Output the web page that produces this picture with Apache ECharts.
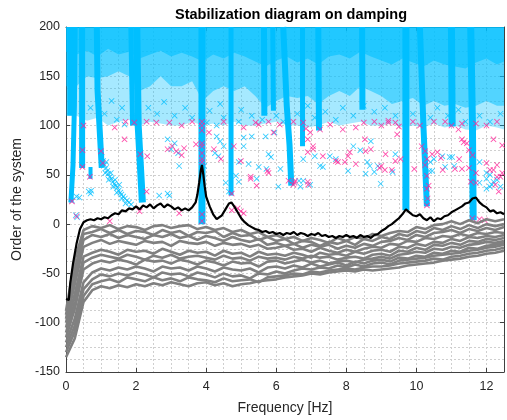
<!DOCTYPE html>
<html><head><meta charset="utf-8">
<script src="https://cdn.jsdelivr.net/npm/echarts@6/dist/echarts.min.js"></script>
<style>html,body{margin:0;padding:0;background:#fff}#c{width:507px;height:420px}</style>
</head><body><div id="c"></div>
<script>
// ---------- data ----------
const xTicks = [0,2,4,6,8,10,12];
const yTicks = [-150,-100,-50,0,50,100,150,200];

const grayF = [0,0.25,0.5,0.75,1,1.25,1.5,1.75,2,2.25,2.5,2.75,3,3.25,3.5,3.75,4,4.25,4.5,4.75,5,5.25,5.5,5.75,6,6.25,6.5,6.75,7,7.25,7.5,7.75,8,8.25,8.5,8.75,9,9.25,9.5,9.75,10,10.25,10.5,10.75,11,11.25,11.5,11.75,12,12.25,12.5];
const gray1 = [-88,-36,-6,-2,-4,-1,-5,-2,-3,-6,-2,-1,-4,-2,-1,-5,-3,-6,-4,-8,-6,-10,-8,-13,-11,-15,-13,-17,-14,-16,-19,-14,-17,-13,-15,-10,-12,-9,-7,-8,-3,-5,-1,0,3,0,4,1,5,3,5];
const gray2 = [-92,-46,-10,-8,-5,-9,-6,-10,-7,-8,-11,-6,-9,-7,-12,-8,-9,-7,-13,-9,-12,-11,-16,-13,-17,-15,-20,-17,-18,-22,-18,-20,-17,-21,-15,-17,-13,-15,-10,-12,-7,-9,-4,-6,-2,-5,-1,-4,0,-2,0];
const gray3 = [-96,-53,-16,-11,-13,-10,-14,-11,-13,-15,-11,-13,-10,-14,-12,-16,-12,-14,-17,-13,-16,-18,-15,-21,-19,-22,-20,-24,-21,-23,-21,-25,-22,-24,-20,-22,-18,-17,-14,-16,-11,-13,-9,-8,-6,-9,-5,-7,-4,-6,-3];
const gray4 = [-100,-61,-23,-19,-16,-20,-17,-19,-21,-17,-19,-18,-22,-17,-19,-20,-18,-22,-19,-21,-20,-23,-21,-25,-24,-22,-26,-25,-28,-24,-27,-29,-26,-28,-25,-23,-24,-20,-21,-17,-18,-14,-15,-12,-13,-10,-12,-9,-10,-8,-9];
const gray5 = [-105,-71,-33,-29,-26,-28,-31,-26,-28,-27,-30,-25,-28,-31,-27,-29,-28,-32,-27,-30,-29,-33,-28,-31,-30,-32,-29,-31,-34,-29,-31,-30,-32,-28,-30,-27,-26,-28,-23,-24,-20,-22,-18,-19,-15,-17,-13,-14,-12,-13,-11];
const gray6 = [-110,-79,-39,-34,-31,-33,-35,-31,-33,-36,-32,-34,-31,-35,-33,-32,-34,-36,-32,-35,-34,-37,-33,-35,-34,-36,-33,-35,-32,-34,-33,-36,-34,-33,-35,-31,-30,-32,-27,-28,-24,-26,-21,-22,-19,-21,-17,-18,-15,-16,-14];
const gray7 = [-115,-86,-46,-40,-37,-39,-36,-38,-41,-36,-38,-37,-40,-36,-38,-41,-37,-39,-42,-38,-40,-39,-43,-38,-37,-40,-38,-36,-39,-37,-40,-38,-37,-39,-36,-35,-33,-35,-31,-30,-28,-29,-25,-26,-23,-24,-21,-20,-18,-19,-17];
const gray8 = [-120,-96,-59,-49,-45,-47,-44,-46,-43,-45,-48,-43,-45,-44,-47,-43,-45,-48,-44,-46,-47,-45,-49,-44,-43,-45,-42,-44,-40,-43,-41,-39,-42,-38,-40,-37,-36,-38,-34,-35,-32,-33,-29,-30,-27,-28,-24,-25,-22,-21,-19];
const gray9 = [-125,-103,-66,-56,-51,-53,-50,-52,-49,-51,-54,-49,-51,-50,-53,-49,-51,-54,-50,-53,-52,-55,-50,-51,-48,-50,-47,-45,-46,-44,-45,-42,-44,-41,-43,-40,-39,-41,-37,-36,-35,-34,-32,-31,-30,-29,-27,-26,-24,-23,-21];
const gray10 = [-130,-109,-73,-61,-58,-56,-59,-54,-56,-58,-54,-57,-55,-58,-54,-56,-57,-59,-55,-58,-57,-56,-59,-54,-53,-52,-50,-51,-48,-49,-47,-46,-45,-46,-44,-43,-43,-42,-40,-39,-38,-37,-35,-36,-33,-32,-30,-29,-27,-26,-24];
const gray11 = [-135,-116,-79,-67,-63,-65,-62,-64,-61,-63,-60,-62,-59,-61,-63,-60,-59,-62,-60,-63,-61,-60,-58,-57,-56,-54,-53,-52,-50,-51,-49,-48,-47,-48,-46,-47,-46,-45,-44,-42,-41,-40,-39,-37,-36,-35,-33,-32,-30,-29,-27];

const blackLine = [[0,-76],[0.08,-77],[0.12,-60],[0.2,-40],[0.3,-20],[0.4,-5],[0.5,2],[0.6,4],[0.7,5],[0.8,4],[0.9,6],[1.0,5],[1.1,7],[1.2,6],[1.3,9],[1.4,11],[1.5,10],[1.6,14],[1.7,13],[1.8,16],[1.9,15],[2.0,18],[2.1,15],[2.2,19],[2.3,17],[2.4,20],[2.5,16],[2.6,19],[2.7,21],[2.8,17],[2.9,20],[3.0,18],[3.1,15],[3.2,17],[3.3,14],[3.4,16],[3.5,14],[3.6,17],[3.7,22],[3.75,30],[3.8,42],[3.85,55],[3.88,60],[3.92,50],[3.96,38],[4.0,28],[4.1,18],[4.2,10],[4.3,5],[4.35,4],[4.45,9],[4.55,15],[4.65,21],[4.72,22],[4.8,18],[4.9,12],[5.0,6],[5.1,2],[5.2,-1],[5.3,-3],[5.4,-5],[5.5,-6],[5.6,-8],[5.7,-7],[5.8,-9],[5.9,-8],[6.0,-10],[6.1,-9],[6.2,-11],[6.3,-9],[6.4,-10],[6.5,-8],[6.6,-11],[6.7,-9],[6.8,-10],[6.9,-12],[7.0,-10],[7.1,-11],[7.2,-9],[7.3,-12],[7.4,-11],[7.5,-13],[7.6,-12],[7.7,-14],[7.8,-12],[7.9,-13],[8.0,-11],[8.1,-13],[8.2,-12],[8.3,-14],[8.4,-11],[8.5,-13],[8.6,-12],[8.7,-14],[8.8,-11],[8.9,-10],[9.0,-7],[9.1,-5],[9.2,-2],[9.3,0],[9.4,3],[9.5,6],[9.6,10],[9.7,15],[9.75,15],[9.8,12],[9.9,9],[10.0,8],[10.1,10],[10.2,6],[10.3,4],[10.4,7],[10.5,3],[10.6,6],[10.7,5],[10.8,8],[10.9,9],[11.0,12],[11.1,14],[11.2,16],[11.3,18],[11.4,21],[11.5,22],[11.6,26],[11.65,24],[11.7,27],[11.8,22],[11.9,19],[12.0,17],[12.1,13],[12.2,14],[12.3,11],[12.4,12],[12.5,10]];

// lower edges of the dense cloud of stable poles (upper orders)
const cloudF = [0,0.3,0.6,0.9,1.2,1.5,1.8,2.1,2.4,2.7,3.0,3.3,3.6,3.9,4.2,4.5,4.8,5.1,5.4,5.7,6.0,6.3,6.6,6.9,7.2,7.5,7.8,8.1,8.4,8.7,9.0,9.3,9.6,9.9,10.2,10.5,10.8,11.1,11.4,11.7,12.0,12.3,12.5];
const cloudTopLow = [175,172,176,170,178,172,175,168,172,176,170,174,170,165,172,168,174,170,165,160,166,170,164,168,162,170,172,168,175,170,166,162,168,164,160,166,162,160,158,164,168,162,165];
const cloudDenseLow = [140,140,150,148,150,155,150,135,140,150,140,140,145,125,135,140,135,140,130,118,125,130,128,130,122,130,135,130,140,135,130,122,125,128,120,125,120,122,118,120,125,120,120];
const cloudSparseLow = [110,110,105,108,100,104,106,100,104,102,100,100,104,100,102,100,104,100,100,102,104,100,100,98,100,104,100,102,104,100,100,102,98,100,98,102,98,100,96,95,100,98,96];

// vertical alignments of stable poles: [frequency, order] polylines
const stableColumns = [
  [[0.12,200],[0.12,110]],
  [[0.26,200],[0.24,120],[0.2,60],[0.14,22]],
  [[0.46,200],[0.46,57]],
  [[0.7,58],[0.7,46]],
  [[0.88,200],[0.9,136],[1.02,57]],
  [[1.85,200],[1.9,100]],
  [[2.02,200],[2.06,100],[2.18,22]],
  [[3.88,200],[3.88,0]],
  [[4.71,200],[4.71,29]],
  [[5.65,200],[5.66,110]],
  [[5.9,200],[5.92,115]],
  [[6.2,200],[6.3,120],[6.38,80],[6.43,39]],
  [[6.75,200],[6.75,79]],
  [[7.2,200],[7.22,95]],
  [[8.45,200],[8.46,116]],
  [[9.7,200],[9.7,14]],
  [[10.1,200],[10.2,100],[10.3,18]],
  [[11.0,200],[11.02,99]],
  [[11.55,200],[11.6,100],[11.62,4]]
];

const cyanPts = [[0.17,24],[0.3,28],[0.38,27],[0.28,9],[0.32,7],[0.65,33],[0.7,31],[0.72,34],
[1.02,68],[1.06,64],[1.1,60],[1.14,57],[1.18,54],[1.2,51],[1.25,48],[1.3,46],[1.34,43],[1.38,41],[1.42,39],[1.47,37],[1.5,34],[1.55,32],[1.58,30],[1.63,28],[1.68,26],[1.74,24],[1.8,22],[1.86,20],[1.12,52],[1.22,45],[1.35,38],[1.45,32],[1.6,26],[1.7,21],[1.15,63],[1.28,52],[1.4,45],[1.52,40],
[1.45,106],[1.67,101],[2.66,29],[2.9,31],[2.95,29],[3.23,59],[3.0,76],[3.1,82],[2.9,86],[3.2,72],
[4.02,103],[4.3,100],[4.3,89],[4.4,84],[4.5,79],[4.25,72],[4.35,69],[3.94,59],[4.65,33],[4.56,42],[4.85,49],[4.93,43],[4.93,63],[4.93,104],[5.07,88],[5.07,79],[5.21,61],[5.5,58],[5.72,56],[6.12,56],[5.44,46],[6.06,38],[5.3,89],[5.7,89],[5.78,71],[5.85,68],[5.95,93],
[6.65,44],[6.69,38],[6.77,44],[6.97,40],[6.77,66],[7.1,69],[7.25,59],[7.33,58],[7.53,69],[7.7,66],[8.05,54],[8.6,63],
[8.2,79],[8.4,75],[8.7,84],[8.55,51],[8.67,59],[8.8,53],[8.9,59],[9.32,53],[8.98,41],[9.4,71],
[10.4,63],[10.45,54],[10.37,54],[10.5,66],[10.74,69],[10.82,58],[10.95,68],[11.02,68],[11.08,59],
[11.8,63],[11.8,42],[12.0,52],[12.0,46],[12.0,36],[12.1,38],[12.1,50],[12.15,40],[12.2,43],[12.4,38],[12.3,45],
[0.7,118],[1.1,112],[1.3,125],[1.6,118],[1.9,108],[2.35,118],[2.6,112],[2.8,124],[3.1,110],[3.4,118],[3.6,108],[4.1,115],[4.4,122],[4.5,108],[5.0,116],[5.3,110],[5.6,106],[6.0,110],[6.2,104],[6.6,112],[6.9,120],[7.1,108],[7.4,114],[7.7,106],[7.9,118],[8.2,110],[8.5,120],[8.8,114],[9.1,118],[9.4,110],[9.9,112],[10.4,108],[10.6,118],[10.9,110],[11.2,116],[11.4,104],[11.8,110],[12.1,104],[12.4,112]];

const magentaPts = [[0.47,75],[0.47,58],[0.17,23],[0.3,8],[0.68,48],[1.0,74],[1.05,62],[1.39,98],[1.67,86],[1.95,103],[2.3,104],[2.58,103],[2.95,103],[2.32,69],[2.12,71],[2.3,33],[2.1,13],[1.25,3],[3.23,11],
[3.03,79],[3.15,74],[3.3,70],[3.37,77],[2.9,76],[3.71,81],
[3.88,104],[3.88,100],[3.88,95],[3.88,82],[3.88,79],[3.88,72],[3.88,66],[3.88,63],[3.88,10],[3.88,3],
[4.08,93],[4.22,76],[4.42,66],[4.79,79],[5.07,98],[4.99,64],[4.73,31],[4.73,14],[4.99,13],[5.07,11],[4.9,16],
[5.27,48],[5.44,39],[5.27,46],[5.41,103],[5.5,101],[5.78,104],[5.78,52],[5.75,54],[5.92,93],
[6.49,104],[6.77,103],[6.85,97],[6.97,93],[6.9,86],[7.05,79],[7.05,76],[7.33,69],[7.25,96],[7.54,101],[7.9,96],[8.05,69],[7.7,64],[7.76,63],[7.96,63],[8.1,73],[6.54,44],[6.91,40],[6.9,43],[6.35,44],[6.49,40],[6.52,42],[6.9,73],
[8.27,98],[8.27,61],[8.53,86],[8.7,76],[8.55,74],[8.8,104],[9.0,100],[9.2,105],[9.4,103],[9.5,99],[9.2,103],[9.45,91],[8.95,57],[9.1,55],[9.0,59],[9.3,55],[9.12,71],[9.4,64],[9.55,66],[9.94,56],
[10.15,79],[10.25,74],[10.3,66],[10.25,60],[10.3,49],[10.35,39],[10.3,36],[10.32,26],[10.3,19],
[10.45,71],[10.7,67],[10.6,73],[10.75,55],[11.1,56],[11.22,66],[11.3,56],[10.82,104],[11.0,100],[11.2,96],[11.3,102],[11.3,86],[11.44,82],[11.35,83],[11.5,75],[11.6,70],[11.5,57],[11.7,52],[11.55,43],[11.7,42],[11.6,6],[11.8,5],[11.95,4],
[12.0,62],[12.2,55],[12.4,48],[12.3,60],[12.1,55],[12.3,48],[12.45,52],[12.25,40],[12.35,33],[12.2,86],[12.45,80],
[9.9,104],[10.1,100],[10.5,104],[11.7,102],[12.0,100],[12.3,104],[3.3,100],[3.6,104],[4.5,104],[6.1,101],[8.5,103],[1.7,104],[0.5,100]];

// ---------- styles ----------
const CYAN = '#00bfff', MAG = '#ff1f96', GRAY = '#808080';
const FONT = '"Liberation Sans", Arial, Helvetica, sans-serif';
const X_PATH = 'path://M1,0L5,4L9,0L10,1L6,5L10,9L9,10L5,6L1,10L0,9L4,5L0,1Z';
const columnWidths = [6,5,6,4,6,5,7,7,5,6,5,6,5,6,6,7,6,7,7];
const gridLine = {show:true, lineStyle:{color:'#cfcfcf', type:[2,2], width:1}};
const axisCol = '#404040';

const grays = [gray1,gray2,gray3,gray4,gray5,gray6,gray7,gray8,gray9,gray10,gray11];

const series = [];
[[cloudTopLow,0.6],[cloudDenseLow,0.5],[cloudSparseLow,0.35]].forEach(([arr,op]) => {
  series.push({type:'line', data: cloudF.map((f,i)=>[f, arr[i]]), showSymbol:false, silent:true,
    lineStyle:{width:0, opacity:0}, areaStyle:{color:CYAN, opacity:op, origin:'end'}, z:1});
});
stableColumns.forEach((pts,i) => {
  series.push({type:'line', data: pts, showSymbol:false, silent:true,
    lineStyle:{color:CYAN, width:columnWidths[i]}, z:2});
});
series.push({type:'scatter', data: cyanPts, symbol:X_PATH, symbolSize:6, itemStyle:{color:CYAN}, z:3});
series.push({type:'scatter', data: magentaPts, symbol:X_PATH, symbolSize:6, itemStyle:{color:MAG}, z:4});
grays.forEach(g => {
  series.push({type:'line', data: grayF.map((f,i)=>[f, g[i]]), showSymbol:false, silent:true,
    lineStyle:{color:GRAY, width:2.6}, z:5});
});
series.push({type:'line', data: blackLine, showSymbol:false, silent:true,
  lineStyle:{color:'#000', width:2.2}, z:6});

const chart = echarts.init(document.getElementById('c'), null, {renderer:'canvas'});
chart.setOption({
  animation:false,
  backgroundColor:'#fff',
  title:{text:'Stabilization diagram on damping', left:286, top:2, textAlign:'center',
    textStyle:{fontSize:14.5, fontWeight:'bold', color:'#000', fontFamily:FONT}},
  grid:{left:66, right:0, top:27, bottom:44, containLabel:false},
  xAxis:[
    {type:'value', min:0, max:12.5, interval:2, position:'bottom',
     axisLine:{show:true, onZero:false, lineStyle:{color:axisCol}},
     axisTick:{show:true, inside:true, length:4, lineStyle:{color:axisCol}},
     axisLabel:{color:'#262626', fontSize:12.5, fontFamily:FONT, margin:8,
       formatter: v => xTicks.includes(v) ? String(v) : ''},
     splitLine:{show:false},
     name:'Frequency [Hz]', nameLocation:'middle', nameGap:29,
     nameTextStyle:{color:'#262626', fontSize:14, fontFamily:FONT}},
    {type:'value', min:0, max:12.5, interval:0.5, position:'bottom',
     axisLine:{show:false, onZero:false}, axisTick:{show:false}, axisLabel:{show:false}, splitLine:gridLine},
    {type:'value', min:0, max:12.5, interval:2, position:'top',
     axisLine:{show:true, onZero:false, lineStyle:{color:axisCol}},
     axisTick:{show:true, inside:true, length:4, lineStyle:{color:axisCol}},
     axisLabel:{show:false}, splitLine:{show:false}}
  ],
  yAxis:[
    {type:'value', min:yTicks[0], max:yTicks[yTicks.length-1], interval:50, position:'left',
     axisLine:{show:true, onZero:false, lineStyle:{color:axisCol}},
     axisTick:{show:true, inside:true, length:4, lineStyle:{color:axisCol}},
     axisLabel:{color:'#262626', fontSize:12.5, fontFamily:FONT, margin:6},
     splitLine:gridLine,
     minorTick:{show:false, splitNumber:4},
     minorSplitLine:gridLine,
     name:'Order of the system', nameLocation:'middle', nameGap:31,
     nameTextStyle:{color:'#262626', fontSize:14, fontFamily:FONT}},
    {type:'value', min:yTicks[0], max:yTicks[yTicks.length-1], interval:50, position:'right',
     axisLine:{show:true, onZero:false, lineStyle:{color:axisCol}},
     axisTick:{show:true, inside:true, length:4, lineStyle:{color:axisCol}},
     axisLabel:{show:false}, splitLine:{show:false}}
  ],
  series: series
});
</script>
</body></html>
